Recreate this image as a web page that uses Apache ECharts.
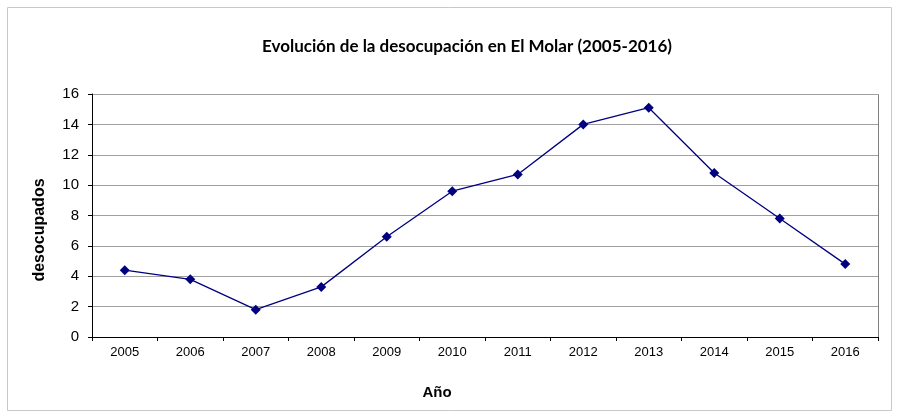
<!DOCTYPE html>
<html lang="es">
<head>
    <meta charset="UTF-8">
    <title>Evolución de la desocupación en El Molar</title>
    <script src="https://cdn.jsdelivr.net/npm/echarts@6/dist/echarts.min.js"></script>
    <style>
        html, body { margin: 0; padding: 0; background: #fff; }
        #chart { width: 899px; height: 418px; }
    </style>
</head>
<body>
<div id="chart"></div>
<script>
    // datos
    var years = ['2005', '2006', '2007', '2008', '2009', '2010', '2011', '2012', '2013', '2014', '2015', '2016'];
    var desocupados = [4.4, 3.8, 1.8, 3.3, 6.6, 9.6, 10.7, 14.0, 15.1, 10.8, 7.8, 4.8];
    var yTicks = [0, 2, 4, 6, 8, 10, 12, 14, 16];

    var font = 'Liberation Sans, Arial, sans-serif';

    var option = {
        backgroundColor: '#fff',
        animation: false,
        grid: { left: 92, right: 21, top: 94, bottom: 81 },
        graphic: [
            {
                type: 'rect',
                shape: { x: 7.5, y: 7.5, width: 884, height: 403 },
                style: { fill: 'none', stroke: '#c8c8c8', lineWidth: 1 }
            },
            {
                // titulo
                type: 'text',
                x: 467, y: 47,
                style: {
                    text: 'Evolución de la desocupación en El Molar (2005-2016)',
                    font: 'bold 17px Lato, sans-serif', fill: '#000', align: 'center', verticalAlign: 'middle'
                }
            },
            {
                type: 'text',
                x: 437, y: 393,
                style: { text: 'Año', font: 'bold 15px ' + font, fill: '#000', align: 'center', verticalAlign: 'middle' }
            },
            {
                type: 'text',
                x: 40, y: 230,
                rotation: Math.PI / 2,
                style: { text: 'desocupados', font: 'bold 16px ' + font, fill: '#000', align: 'center', verticalAlign: 'middle' }
            },
            {
                type: 'polyline',
                shape: { points: [[92, 94.5], [878.5, 94.5], [878.5, 337]] },
                style: { fill: 'none', stroke: '#808080', lineWidth: 1 }
            }
        ],
        xAxis: {
            type: 'category',
            data: years,
            boundaryGap: true,
            axisLine: { lineStyle: { color: '#000', width: 1 } },
            axisTick: { show: true, inside: false, length: 4, alignWithLabel: false, lineStyle: { color: '#000' } },
            axisLabel: { color: '#000', fontFamily: font, fontSize: 13, margin: 9, interval: 0 },
            splitLine: { show: false }
        },
        yAxis: {
            type: 'value',
            min: yTicks[0],
            max: yTicks[yTicks.length - 1],
            interval: 2,
            axisLine: { show: true, lineStyle: { color: '#000', width: 1 } },
            axisTick: { show: true, length: 4, lineStyle: { color: '#000' } },
            axisLabel: { color: '#000', fontFamily: font, fontSize: 15, margin: 13 },
            splitLine: { show: true, lineStyle: { color: '#a0a0a0', width: 1 } }
        },
        series: [{
            type: 'line',
            data: desocupados,
            symbol: 'diamond',
            symbolSize: 10,
            lineStyle: { color: '#000080', width: 1.3 },
            itemStyle: { color: '#000080' },
            z: 5
        }]
    };

    var myChart = echarts.init(document.getElementById('chart'));
    myChart.setOption(option);
</script>
</body>
</html>
